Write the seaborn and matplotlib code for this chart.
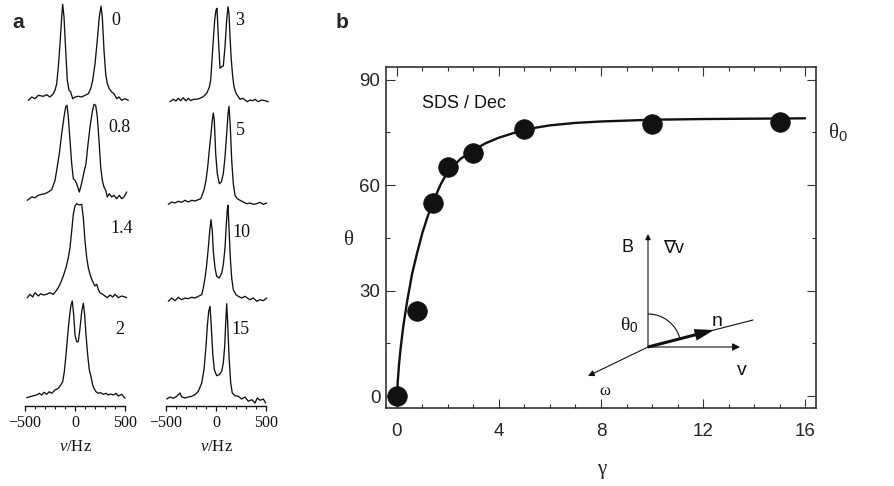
import matplotlib
matplotlib.use("Agg")
import matplotlib.pyplot as plt
import seaborn as sns
import pandas as pd
from matplotlib.patches import Arc, FancyArrowPatch
from matplotlib.ticker import MultipleLocator

# ---------------- panel a: NMR spectra (Hz, intensity a.u.) ----------------
labels_left = ["0", "0.8", "1.4", "2"]
labels_right = ["3", "5", "10", "15"]

spec_0 = [(-467, -3.3), (-433, 0), (-400, -1.7), (-367, 1.7), (-317, 0.7), (-283, 2.3), (-250, 0),
          (-217, 3.3), (-200, 6.7), (-183, 13.3), (-167, 30), (-150, 53), (-133, 80), (-123, 92.7),
          (-110, 80), (-93, 46.7), (-77, 16.7), (-60, 6.7), (-43, 5), (-23, -1.7), (0, 0), (33, 0.7),
          (67, 0), (100, 1.7), (133, 3.3), (157, 8.3), (177, 16.7), (200, 33), (223, 57), (243, 80),
          (260, 90.7), (273, 80), (290, 46.7), (307, 23), (323, 13.3), (343, 8.3), (367, 5), (390, 3.3),
          (417, -1.7), (440, 0), (467, -3.3), (500, -1.7), (533, -3.3)]
spec_08 = [(-477, -3.3), (-433, 0), (-400, -0.7), (-367, 1.7), (-333, 2.7), (-300, 3.3), (-267, 5),
           (-233, 7.3), (-217, 11.7), (-200, 16.7), (-183, 26.7), (-157, 43.3), (-133, 63.3), (-110, 80),
           (-93, 90), (-80, 91.7), (-67, 80), (-50, 56.7), (-33, 33.3), (-17, 18.3), (0, 16.7), (17, 13.3),
           (33, 8.3), (43, 5), (57, 10), (73, 16.7), (90, 25), (110, 33.3), (127, 50), (150, 70), (173, 85),
           (190, 92.7), (207, 91.7), (223, 80), (240, 56.7), (257, 30), (273, 16.7), (290, 10), (307, 6.7),
           (323, 0), (343, 3.3), (367, 0), (390, 1.7), (417, -1.7), (443, 1.7), (467, -1.7), (490, 0),
           (517, 5)]
spec_14 = [(-477, -1.7), (-450, 1.7), (-423, -1), (-400, 3.3), (-367, 0), (-343, 2.3), (-317, 1),
           (-283, 1.7), (-250, 3.3), (-217, 1.7), (-190, 5), (-167, 8.3), (-143, 13.3), (-117, 20),
           (-90, 28.3), (-67, 38.3), (-50, 48.3), (-33, 65), (-17, 81.7), (0, 90), (17, 92.3), (43, 91),
           (67, 91.7), (83, 78.3), (100, 55), (117, 38.3), (133, 28.3), (150, 21.7), (167, 16.7),
           (183, 13.3), (200, 10), (217, 11.7), (233, 6.7), (250, 3.3), (277, 1.7), (300, 0), (323, -1.7),
           (350, 1), (377, -1), (400, 1.7), (433, -1.7), (467, 0), (500, -1), (517, -1.7)]
spec_2 = [(-483, -2.7), (-450, -1.7), (-417, -0.7), (-383, 0), (-357, 1.7), (-333, 0), (-310, 2.7),
          (-283, 0.7), (-257, 3.3), (-233, 1.7), (-200, 5), (-167, 6.7), (-143, 10), (-123, 13.3),
          (-107, 23.3), (-90, 40), (-73, 60), (-57, 76.7), (-40, 90), (-27, 94), (-13, 80), (0, 60),
          (17, 53.3), (33, 53.3), (50, 66.7), (67, 83.3), (83, 91.7), (97, 80), (110, 60), (127, 40),
          (143, 25), (160, 18.3), (177, 10), (190, 6.7), (210, 3.3), (233, 1.7), (257, 2.3), (283, 0.7),
          (310, 1.7), (333, 0), (357, 1), (383, 0), (410, 1.7), (433, -1), (467, 0.7), (500, -3.3)]
spec_3 = [(-460, -1.7), (-427, 0.7), (-400, -1), (-377, 1.7), (-353, -0.7), (-327, 2.3), (-300, -1),
          (-277, 1.7), (-253, -0.7), (-227, 0.7), (-193, 0.7), (-160, 1.7), (-127, 3.3), (-93, 6.7),
          (-67, 12.7), (-53, 20), (-40, 40), (-27, 60), (-13, 80), (0, 90), (10, 91.7), (23, 63.3),
          (40, 31.7), (57, 33.3), (73, 34), (90, 53.3), (107, 80), (120, 93.3), (130, 86.7), (140, 63.3),
          (153, 40), (167, 23.3), (180, 13.3), (200, 6.7), (223, 3.3), (240, 0.7), (267, 1.7), (290, 0),
          (313, -1.7), (340, 0), (367, -0.7), (390, 0.7), (423, -1.7), (457, 0), (490, -0.7), (523, -1.7)]
spec_5 = [(-477, -2.3), (-443, 0), (-410, -1), (-377, 0.7), (-343, -0.3), (-310, 1.7), (-277, 0),
          (-243, 1.7), (-210, 1), (-177, 2.3), (-153, 3.3), (-133, 8.3), (-117, 13.3), (-100, 21.7),
          (-83, 35), (-67, 51.7), (-50, 68.3), (-37, 81.7), (-27, 89), (-17, 81.7), (-3, 48.3), (13, 28.3),
          (33, 18.3), (53, 20), (73, 28.3), (90, 45), (107, 68.3), (120, 88.3), (130, 95.7), (143, 75),
          (157, 41.7), (173, 18.3), (190, 6.7), (213, 3.3), (240, 1.7), (273, 0), (307, -1.7), (340, -1),
          (373, -2.3), (407, -1.7), (440, -0.3), (473, -2.3), (507, -1)]
spec_10 = [(-477, -3.3), (-443, 0), (-410, -2.7), (-377, 0.7), (-343, -1.7), (-310, 0), (-277, -0.7),
           (-243, 0.7), (-210, 0), (-177, 1.7), (-143, 3.3), (-127, 10), (-110, 20), (-93, 33.3),
           (-77, 50), (-63, 66.7), (-50, 78.3), (-37, 66.7), (-27, 46.7), (-10, 30), (7, 21.7), (33, 20),
           (57, 25), (73, 33.3), (90, 50), (103, 73.3), (113, 88.3), (120, 92.7), (130, 70), (143, 40),
           (157, 20), (173, 8.3), (200, 3.3), (223, 1.7), (257, 0), (290, 1.7), (313, 0), (340, -1.7),
           (373, 0), (407, -3.3), (440, -1.7), (473, -2.7), (507, 0)]
spec_15 = [(-493, 0), (-460, 2), (-427, 0.7), (-393, 2.7), (-360, 6), (-343, 2), (-310, 1), (-277, 2),
           (-243, 2.7), (-210, 4.3), (-177, 7.7), (-143, 16), (-120, 29.3), (-100, 52.7), (-87, 72.7),
           (-73, 87.7), (-60, 92.7), (-47, 72.7), (-33, 46), (-17, 29.3), (7, 23.3), (33, 24.3),
           (57, 27.7), (73, 36), (87, 52.7), (97, 76), (107, 95.3), (117, 76), (130, 42.7), (147, 16),
           (163, 6), (190, 3.3), (223, 2.7), (257, 0), (290, 2), (323, -2.3), (357, -0.7), (390, -4),
           (413, 1), (440, -1.3), (473, 0), (497, -4)]

a_major = [-500, 0, 500]
a_major_labels = ["\u2212500", "0", "500"]
a_minor = [-400, -300, -200, -100, 100, 200, 300, 400]

# ---------------- panel b: theta vs gamma ----------------
gamma_pts = [0, 0.8, 1.4, 2, 3, 5, 10, 15]
theta_pts = [0, 24.3, 54.9, 65.2, 69.2, 76.1, 77.4, 78.0]
curve_gamma = [0, 0.03, 0.08, 0.15, 0.25, 0.4, 0.6, 0.8, 1.0, 1.2, 1.4, 1.7, 2.0, 2.5, 3.0, 3.5,
               4.0, 5.0, 6.0, 7.0, 8.0, 10.0, 12.0, 14.0, 16.0]
curve_theta = [0, 4, 9, 14, 20, 27, 35, 41, 46.5, 51, 55, 60, 64, 67.5, 70, 72,
               73.5, 75.8, 77, 77.7, 78.1, 78.6, 78.8, 78.9, 79.0]
b_xticks = [0, 4, 8, 12, 16]
b_yticks = [0, 30, 60, 90]

# ---------------- style ----------------
sns.set_style("ticks")
plt.rcParams["font.family"] = ["Liberation Sans", "DejaVu Sans"]
plt.rcParams["mathtext.fontset"] = "custom"
plt.rcParams["mathtext.rm"] = "Liberation Serif"
plt.rcParams["mathtext.it"] = "Liberation Serif:italic"
plt.rcParams["mathtext.sf"] = "Liberation Sans"
INK = "#111111"
SERIF = ["Liberation Serif", "DejaVu Serif"]

W, H = 895, 486
fig = plt.figure(figsize=(W / 100, H / 100), dpi=100)
fig.patch.set_facecolor("white")


def rect(x0, y0, x1, y1):
    return [x0 / W, 1 - y1 / H, (x1 - x0) / W, (y1 - y0) / H]


# ---------------- panel a ----------------
columns = [
    (rect(20, 0, 130, 406), [spec_0, spec_08, spec_14, spec_2], labels_left,
     [309, 209, 110, 11], [(360, 386), (330, 279), (350, 178), (400, 77)]),
    (rect(161, 0, 271, 406), [spec_3, spec_5, spec_10, spec_15], labels_right,
     [306, 204, 108, 7], [(190, 386), (200, 276), (160, 174), (150, 77)]),
]
for pos, specs, labs, offs, lab_pos in columns:
    ax = fig.add_axes(pos)
    ax.patch.set_alpha(0)
    for spec, lab, off, (lx, ly) in zip(specs, labs, offs, lab_pos):
        df = pd.DataFrame(spec, columns=["hz", "inten"])
        df["y"] = df["inten"] + off
        sns.lineplot(data=df, x="hz", y="y", ax=ax, color=INK, lw=0.95,
                     estimator=None, sort=False, legend=False)
        ax.text(lx, ly, lab, family=SERIF, fontsize=13, ha="left", va="center", color=INK)
    ax.set_xlim(-550, 550)
    ax.set_ylim(0, 406)
    for s in ["left", "right", "top"]:
        ax.spines[s].set_visible(False)
    ax.spines["bottom"].set_bounds(-500, 500)
    ax.spines["bottom"].set_linewidth(1.0)
    ax.spines["bottom"].set_color(INK)
    ax.set_yticks([])
    ax.set_xticks(a_major, labels=a_major_labels, fontfamily=SERIF, fontsize=11.5)
    ax.set_xticks(a_minor, minor=True)
    ax.tick_params(axis="x", which="major", direction="out", length=3.8, width=0.9, pad=2.5,
                   color=INK, labelcolor=INK)
    ax.tick_params(axis="x", which="minor", direction="out", length=2.2, width=0.8, color=INK)
    ax.set_xlabel("")
    ax.set_ylabel("")
    ax.text(0, -41, r"$\mathit{\nu}$/Hz", family=SERIF, fontsize=12, ha="center", va="center",
            color=INK, clip_on=False)

fig.text(18 / W, 1 - 23 / H, "a", fontsize=15, fontweight="bold", ha="center", va="center")
fig.text(342 / W, 1 - 23 / H, "b", fontsize=15, fontweight="bold", ha="center", va="center")

# ---------------- panel b ----------------
axb = fig.add_axes(rect(386, 67, 816, 408))
sns.lineplot(x=curve_gamma, y=curve_theta, ax=axb, color=INK, lw=1.7, estimator=None, sort=False)
sns.scatterplot(x=gamma_pts, y=theta_pts, ax=axb, s=200, color=INK, edgecolor=INK,
                linewidth=0.5, zorder=3, clip_on=False)
axb.set_xlim(-0.43, 16.43)
axb.set_ylim(-3.4, 93.6)
axb.set_xticks(b_xticks, labels=[str(v) for v in b_xticks], fontsize=13.5)
axb.set_yticks(b_yticks, labels=[str(v) for v in b_yticks], fontsize=13.5)
axb.xaxis.set_minor_locator(MultipleLocator(1))
axb.yaxis.set_minor_locator(MultipleLocator(15))
axb.tick_params(which="both", direction="in", top=True, right=True, color="#333333", width=0.8)
axb.tick_params(which="major", length=6.5)
axb.tick_params(which="minor", length=3.2)
axb.tick_params(axis="x", pad=11)
axb.tick_params(axis="y", pad=4)
for s in axb.spines.values():
    s.set_linewidth(1.1)
    s.set_color("#222222")
axb.set_xlabel("")
axb.set_ylabel("")
axb.text(1.0, 83.2, "SDS / Dec", fontsize=13, ha="left", va="center", color=INK)

fig.text(349 / W, 1 - 240 / H, "\u03b8", family=SERIF, fontsize=15, ha="center", va="center")
fig.text(602 / W, 1 - 469 / H, "\u03b3", family=SERIF, fontsize=15, ha="center", va="center")
fig.text(828 / W, 1 - 132 / H, r"$\mathrm{\theta}_{\mathsf{0}}$", fontsize=15, ha="left", va="center")

# ---------------- inset diagram (pixel-scaled overlay) ----------------
ax_in = fig.add_axes(rect(555, 205, 795, 410))
ax_in.set_xlim(555, 795)
ax_in.set_ylim(410, 205)
ax_in.axis("off")
ax_in.patch.set_alpha(0)
O = (648, 347)


def arrow(tip, ms):
    ax_in.add_patch(FancyArrowPatch(O, tip, arrowstyle="-|>", mutation_scale=ms, lw=0.8,
                                    color=INK, shrinkA=0, shrinkB=0))


arrow((648, 234), 8)
arrow((740, 347), 11)
arrow((588, 376), 9)
ax_in.plot([648, 753], [347, 320], color=INK, lw=0.8)
ax_in.add_patch(FancyArrowPatch(O, (714, 330),
                                arrowstyle="simple,head_length=1.4,head_width=0.85,tail_width=0.22",
                                mutation_scale=10, color=INK, lw=0, shrinkA=0, shrinkB=0))
ax_in.add_patch(Arc(O, 66, 66, theta1=-90, theta2=-15, lw=0.8, color=INK))
ax_in.text(628, 247, "B", fontsize=13, ha="center", va="center", color=INK)
ax_in.text(674, 248, "\u2207v", fontsize=13, ha="center", va="center", color=INK)
ax_in.text(629, 325, r"$\mathrm{\theta}_{\mathsf{0}}$", fontsize=14, ha="center", va="center", color=INK)
ax_in.text(717, 321, "n", fontsize=14, ha="center", va="center", color=INK)
ax_in.text(742, 370, "v", fontsize=14, ha="center", va="center", color=INK)
ax_in.text(605, 391, "\u03c9", family=SERIF, fontsize=12, ha="center", va="center", color=INK)

fig.savefig("out.png", dpi=100, facecolor="white")
